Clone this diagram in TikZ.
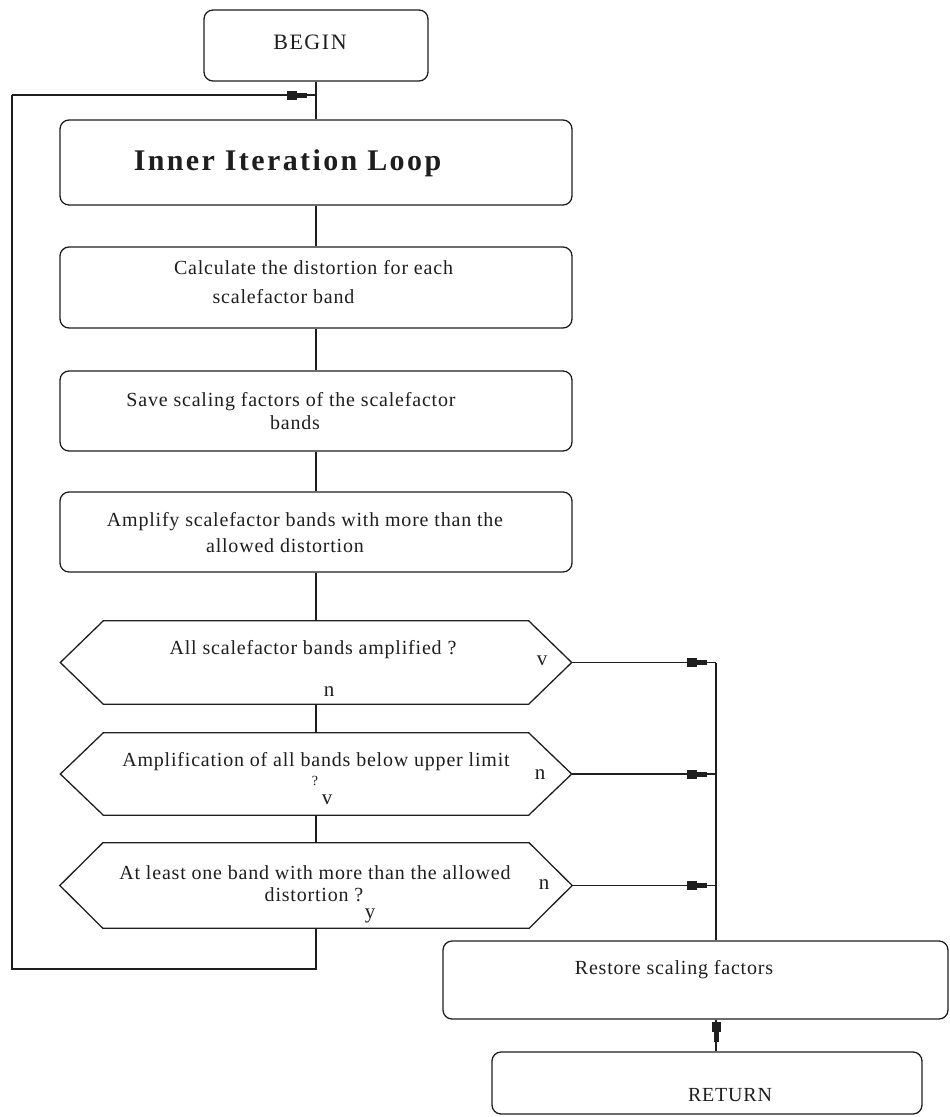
\documentclass[tikz,border=0pt]{standalone}
\usepackage{fontspec}
\setmainfont{Liberation Serif}
\newfontfamily\flowfont[LetterSpace=4]{Liberation Serif}
\newfontfamily\headfont[LetterSpace=7]{Liberation Serif}
\newfontfamily\titlefont[LetterSpace=8]{Liberation Serif}
\usetikzlibrary{arrows.meta,decorations.markings}

\definecolor{ink}{HTML}{1E1E1E}

\tikzset{
  flow/.style={line width=1.3pt, draw=ink},
  stepbox/.style={flow, rounded corners=9pt, inner sep=0pt},
  hexframe/.style={inner sep=0pt, draw=none},
  txt/.style={inner sep=0pt, text=ink, font=\flowfont\fontsize{20}{22}\selectfont},
  lbl/.style={inner sep=0pt, text=ink, font=\fontsize{21}{22}\selectfont},
  blocktip/.style={postaction={decorate}, decoration={markings,
      mark=at position -9pt with {\arrow{Rectangle[length=10pt,width=9pt] Rectangle[length=10pt,width=5pt]}}}},
}

% pointed decision box drawn around a named rectangular node
\newcommand\decision[4]{%
  \node[hexframe, minimum width=#3, minimum height=#4] (#1) at (#2) {};
  \draw[flow] (#1.west) -- ([xshift=43pt]#1.north west) -- ([xshift=-43pt]#1.north east)
    -- (#1.east) -- ([xshift=-43pt]#1.south east) -- ([xshift=43pt]#1.south west) -- cycle;}

\begin{document}
\begin{tikzpicture}[x=1pt,y=-1pt]
\useasboundingbox (0,0) rectangle (950,1117);

% process boxes
\node[stepbox, minimum width=224pt, minimum height=71pt] (begin) at (316,45.5) {};
\node[stepbox, minimum width=512pt, minimum height=85pt] (inner) at (316,162.5) {};
\node[stepbox, minimum width=512pt, minimum height=81pt] (calc) at (316,287.5) {};
\node[stepbox, minimum width=512pt, minimum height=80pt] (save) at (316,411) {};
\node[stepbox, minimum width=512pt, minimum height=80pt] (ampl) at (316,532) {};
\node[stepbox, minimum width=505pt, minimum height=78pt] (restore) at (695.5,980) {};
\node[stepbox, minimum width=430pt, minimum height=62pt] (ret) at (707,1083) {};

% decisions
\decision{q1}{316,662.5}{511pt}{83pt}
\decision{q2}{316,774}{511pt}{82pt}
\decision{q3}{316,885.5}{512pt}{85pt}

% texts
\node[inner sep=0pt, text=ink, font=\headfont\fontsize{22}{24}\selectfont] (tBegin) at (310,42) {BEGIN};
\node[inner sep=0pt, text=ink, font=\titlefont\bfseries\fontsize{30}{32}\selectfont] (tInner) at (287.5,163) {Inner Iteration Loop};
\node[txt] (tCalcA) at (313.5,268) {Calculate the distortion for each};
\node[txt] (tCalcB) at (283.5,297) {scalefactor band};
\node[txt] (tSaveA) at (291,402) {Save scaling factors of the scalefactor};
\node[txt] (tSaveB) at (295,423) {bands};
\node[txt] (tAmplA) at (305,522) {Amplify scalefactor bands with more than the};
\node[txt] (tAmplB) at (285,546) {allowed distortion};
\node[txt] (tQ1) at (313,650) {All scalefactor bands amplified ?};
\node[txt] (tQ2) at (316,762) {Amplification of all bands below upper limit};
\node[txt, font=\flowfont\fontsize{14}{15}\selectfont] (tQ2q) at (315,781) {?};
\node[txt] (tQ3A) at (315,873) {At least one band with more than the allowed};
\node[txt] (tQ3B) at (314,895) {distortion ?};
\node[txt] (tRestore) at (674,970) {Restore scaling factors};
\node[txt] (tRet) at (730,1095) {RETURN};

% branch letters
\node[lbl] (l1y) at (542,661) {v};
\node[lbl] (l1n) at (329,692) {n};
\node[lbl] (l2n) at (540,775) {n};
\node[lbl] (l2y) at (327,800) {v};
\node[lbl] (l3n) at (544,885) {n};
\node[lbl] (l3y) at (370,916) {y};

% joints of the connectors
\coordinate (loopBL) at (12,969);
\coordinate (loopTL) at (12,95);
\coordinate (bus) at (716,662.5);

% main spine
\draw[flow] (begin.south) -- (inner.north);
\draw[flow] (inner.south) -- (calc.north);
\draw[flow] (calc.south) -- (save.north);
\draw[flow] (save.south) -- (ampl.north);
\draw[flow] (ampl.south) -- (q1.north);
\draw[flow] (q1.south) -- (q2.north);
\draw[flow] (q2.south) -- (q3.north);

% return loop back to the inner iteration
\draw[flow] (q3.south) |- (loopBL) -- (loopTL);
\draw[flow, blocktip] (loopTL) -- (begin.south |- loopTL);

% exits to the restore step
\draw[flow, blocktip] (q1.east) -- (bus);
\draw[flow, blocktip] (q2.east) -- (q2.east -| bus);
\draw[flow, blocktip] (q3.east) -- (q3.east -| bus);
\draw[flow] (bus) -- (bus |- restore.north);
\draw[flow, blocktip] (bus |- restore.south) -- (bus |- ret.north);
\end{tikzpicture}
\end{document}
